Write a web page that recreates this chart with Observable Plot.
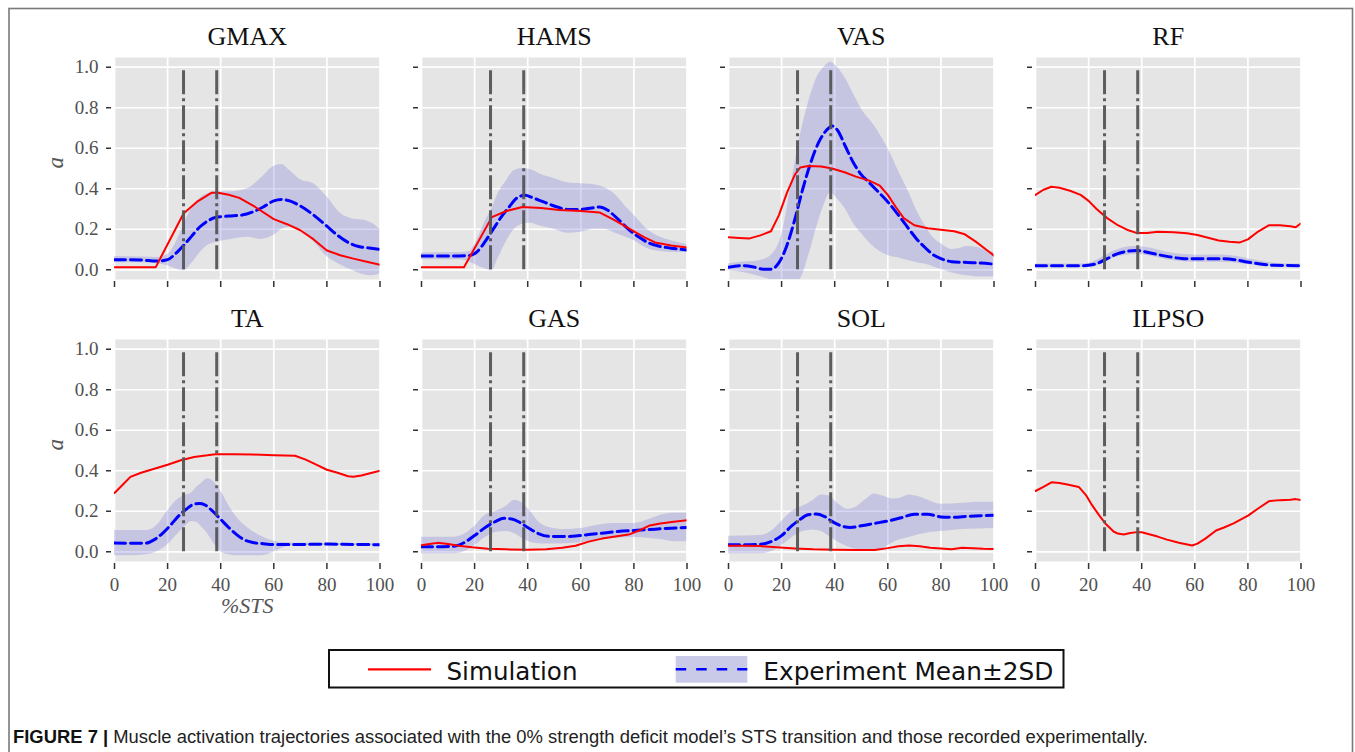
<!DOCTYPE html>
<html>
<head>
<meta charset="utf-8">
<script src="https://cdn.jsdelivr.net/npm/d3@7"></script>
<script src="https://cdn.jsdelivr.net/npm/@observablehq/plot@0.6"></script>
<style>
  html, body { margin: 0; padding: 0; background: #fff; }
  #root { position: relative; width: 1355px; height: 752px; overflow: hidden; background: #fff; }
  #root svg.panel { position: absolute; }
</style>
</head>
<body>
<div id="root"></div>
<script>
// ---------- data ----------
const muscles = ["GMAX", "HAMS", "VAS", "RF", "TA", "GAS", "SOL", "ILPSO"];
const xTicks = [0, 20, 40, 60, 80, 100];
const yTicks = [0, 0.2, 0.4, 0.6, 0.8, 1.0];
const phaseLines = [26, 38.5];
const seriesNames = ["Simulation", "Experiment Mean\u00b12SD"];
const xLabel = "%STS";
const yLabel = "a";

// [x, activation]
const gmaxSim = [[0,.012],[15.5,.012],[26,.278],[31,.335],[36.5,.38],[39,.38],[43,.37],[47,.355],[53,.31],[60,.25],[65,.225],[70,.195],[75,.15],[80,.095],[85,.072],[90,.055],[95,.04],[100,.025]];
const gmaxMean = [[0,.05],[10,.048],[16,.043],[20,.05],[23,.08],[26,.12],[29,.165],[32,.21],[35,.24],[38,.258],[43,.265],[48,.27],[52,.285],[56,.31],[60,.34],[63,.347],[66,.34],[70,.315],[75,.27],[80,.215],[84,.17],[88,.135],[92,.115],[96,.107],[100,.1]];
// [x, lower, upper]
const gmaxBand = [[0,.035,.065],[10,.035,.063],[16,.03,.06],[20,.02,.075],[23,.005,.13],[26,-.005,.22],[29,.03,.3],[32,.08,.35],[35,.12,.375],[38,.135,.385],[44,.15,.385],[50,.16,.4],[55,.15,.45],[60,.17,.51],[63,.2,.52],[66,.21,.49],[70,.2,.445],[75,.14,.425],[80,.065,.36],[85,.025,.28],[90,-.005,.25],[94,-.025,.245],[97,-.03,.23],[100,-.02,.2]];

const hamsSim = [[0,.012],[16,.012],[26.5,.26],[32,.29],[38,.31],[45,.305],[52,.295],[60,.29],[67,.283],[72,.25],[76,.22],[80,.19],[84,.16],[88,.135],[94,.12],[100,.11]];
const hamsMean = [[0,.068],[10,.068],[18,.07],[21,.09],[24,.14],[27,.2],[30,.26],[33,.31],[36,.355],[39,.368],[42,.355],[46,.335],[50,.315],[55,.298],[60,.298],[64,.305],[67,.31],[70,.295],[74,.25],[78,.2],[82,.16],[86,.13],[90,.115],[95,.105],[100,.098]];
const hamsBand = [[0,.05,.083],[15,.05,.085],[18,.04,.09],[21,.02,.15],[24,.005,.24],[26.5,-.005,.3],[29,.06,.38],[32,.14,.44],[35,.2,.49],[38,.225,.5],[41,.23,.495],[45,.215,.47],[50,.2,.45],[55,.18,.43],[60,.185,.425],[65,.2,.42],[69,.2,.405],[73,.18,.37],[77,.16,.31],[80,.145,.27],[85,.105,.2],[90,.09,.16],[95,.085,.14],[100,.085,.125]];

const vasSim = [[0,.16],[4,.157],[8,.155],[12,.17],[16,.19],[19,.27],[22,.38],[25,.47],[27,.505],[30,.512],[35,.51],[39,.5],[44,.48],[48,.46],[53,.44],[57,.415],[60,.37],[63,.31],[66,.255],[70,.22],[75,.205],[80,.198],[85,.19],[89,.175],[93,.14],[97,.1],[100,.07]];
const vasMean = [[0,.012],[5,.02],[9,.015],[13,.003],[16,.003],[19,.035],[22,.12],[25,.25],[28,.4],[31,.53],[34,.63],[37,.69],[39,.71],[41,.69],[44,.61],[47,.53],[50,.47],[53,.43],[56,.39],[60,.335],[64,.27],[68,.2],[71,.15],[74,.11],[77,.075],[80,.055],[84,.04],[90,.036],[95,.033],[100,.028]];
const vasBand = [[0,-.005,.03],[6,-.015,.038],[12,-.035,.046],[16,-.05,.07],[20,-.08,.17],[24,-.08,.45],[27,-.05,.66],[30,.06,.82],[33,.2,.94],[36,.32,1.0],[38.4,.38,1.025],[41,.35,1.0],[44,.3,.945],[47,.23,.87],[50,.18,.795],[55,.11,.71],[60,.07,.6],[65,.055,.46],[68,.045,.38],[71,.035,.29],[74,.028,.22],[77,.015,.16],[80.5,0,.125],[84,-.015,.1],[87,-.025,.105],[90,-.03,.115],[93.7,-.036,.11],[97,-.036,.095],[100,-.035,.087]];

const rfSim = [[0,.37],[3,.395],[6,.41],[9,.405],[13,.39],[17,.37],[20,.34],[23,.3],[27,.255],[31,.22],[35,.195],[38,.182],[42,.182],[46,.188],[52,.185],[57,.18],[61,.172],[65,.158],[69,.145],[73,.138],[77,.135],[80,.15],[84,.19],[88,.22],[92,.22],[96,.215],[98,.21],[100,.23]];
const rfMean = [[0,.02],[10,.02],[17,.02],[20,.022],[23,.03],[27,.055],[31,.08],[35,.092],[38,.095],[42,.087],[46,.075],[50,.065],[55,.056],[60,.054],[65,.055],[70,.055],[75,.05],[79,.04],[84,.03],[90,.022],[100,.02]];
const rfBand = [[0,.012,.028],[17,.012,.028],[21,.012,.035],[25,.03,.06],[30,.06,.095],[35,.073,.113],[38,.075,.115],[44,.065,.105],[50,.048,.085],[56,.04,.075],[62,.037,.072],[70,.037,.073],[76,.032,.066],[80,.025,.055],[86,.018,.04],[92,.014,.03],[100,.012,.028]];

const taSim = [[0,.29],[3,.33],[6,.37],[10,.39],[15,.41],[20,.43],[25,.452],[30,.468],[35,.476],[38,.482],[45,.482],[52,.48],[60,.477],[68,.474],[72,.455],[76,.43],[80,.405],[84,.39],[88,.373],[90,.37],[93,.377],[97,.39],[100,.4]];
const taMean = [[0,.043],[6,.042],[12,.043],[15,.06],[18,.09],[21,.13],[24,.175],[27,.21],[30,.235],[32,.238],[34,.232],[37,.2],[40,.16],[43,.12],[46,.085],[49,.058],[52,.046],[56,.04],[60,.036],[70,.036],[80,.038],[90,.036],[100,.035]];
const taBand = [[0,-.02,.105],[6,-.02,.105],[12,-.015,.105],[16,0,.13],[20,.035,.2],[24,.09,.26],[27,.13,.28],[29,.15,.29],[31,.145,.32],[33,.12,.34],[35,.09,.36],[37,.05,.35],[40,0,.3],[43,-.015,.23],[46,-.02,.17],[50,-.02,.12],[54,-.02,.085],[58,-.012,.06],[62,.01,.047],[66,.028,.043],[70,.03,.042],[80,.03,.042],[90,.03,.04],[100,.03,.04]];

const gasSim = [[0,.032],[3,.038],[6,.044],[10,.038],[14,.03],[19,.022],[25,.015],[32,.012],[40,.01],[47,.012],[53,.02],[58,.03],[63,.05],[68,.065],[73,.075],[78,.085],[82,.105],[86,.13],[90,.14],[95,.148],[100,.156]];
const gasMean = [[0,.025],[6,.025],[12,.027],[16,.045],[20,.08],[24,.12],[28,.15],[31,.165],[34,.162],[37,.145],[40,.12],[44,.09],[48,.076],[53,.075],[58,.078],[63,.085],[68,.092],[74,.1],[80,.105],[86,.11],[92,.115],[100,.12]];
const gasBand = [[0,-.01,.072],[12,-.01,.072],[16,0,.085],[20,.03,.125],[24,.07,.18],[28,.095,.2],[32,.1,.225],[35,.09,.255],[38,.065,.24],[41,.047,.2],[44,.04,.15],[48,.038,.12],[54,.04,.11],[60,.045,.115],[66,.055,.13],[72,.065,.14],[80,.07,.14],[86,.065,.16],[90,.06,.18],[95,.05,.19],[100,.05,.19]];

const solSim = [[0,.03],[6,.03],[12,.028],[18,.022],[25,.016],[32,.012],[40,.01],[48,.009],[55,.009],[60,.018],[64,.027],[68,.031],[72,.027],[76,.02],[80,.016],[84,.013],[88,.02],[92,.018],[96,.015],[100,.014]];
const solMean = [[0,.035],[6,.035],[12,.037],[16,.05],[20,.08],[24,.13],[27,.16],[30,.183],[33,.186],[36,.175],[39,.15],[42,.13],[46,.12],[50,.128],[55,.14],[60,.152],[65,.168],[70,.185],[75,.185],[80,.172],[85,.17],[90,.175],[95,.178],[100,.18]];
const solBand = [[0,-.01,.077],[12,-.01,.08],[16,0,.1],[20,.03,.15],[24,.07,.2],[28,.1,.225],[32,.108,.255],[35,.1,.28],[38,.075,.275],[41,.05,.24],[45,.025,.21],[48,.012,.22],[52,.002,.26],[55,0,.285],[58,.015,.275],[62,.045,.26],[65,.06,.265],[68,.07,.28],[72,.085,.27],[76,.095,.25],[80,.1,.235],[88,.11,.24],[94,.112,.245],[100,.115,.245]];

const ilpsoSim = [[0,.3],[3,.32],[6,.343],[9,.34],[12,.332],[16.3,.32],[19,.28],[21.3,.23],[24,.18],[26.3,.14],[29.4,.1],[31,.09],[33.2,.085],[35.7,.093],[38.2,.097],[40,.096],[43.2,.085],[46,.075],[49.5,.06],[54,.045],[59,.031],[61,.04],[64,.065],[68,.105],[71,.12],[74.6,.14],[80.2,.18],[84,.215],[88,.25],[92,.255],[96,.257],[98,.26],[100,.255]];

const panels = [
  {name: muscles[0], sim: gmaxSim, mean: gmaxMean, band: gmaxBand},
  {name: muscles[1], sim: hamsSim, mean: hamsMean, band: hamsBand},
  {name: muscles[2], sim: vasSim, mean: vasMean, band: vasBand},
  {name: muscles[3], sim: rfSim, mean: rfMean, band: rfBand},
  {name: muscles[4], sim: taSim, mean: taMean, band: taBand},
  {name: muscles[5], sim: gasSim, mean: gasMean, band: gasBand},
  {name: muscles[6], sim: solSim, mean: solMean, band: solBand},
  {name: muscles[7], sim: ilpsoSim, mean: null, band: null}
];

// ---------- layout ----------
const colLeft = [114, 421, 728.3, 1035];
const rowTop = [57, 339.3];
const areaW = 265.5, areaH = 222;
const ML = 64, MR = 8, MT = 50, MB = 64;
const SERIF = "'Liberation Serif', 'DejaVu Serif', serif";

const root = document.getElementById("root");

// frame border + legend + caption overlay
const NS = "http://www.w3.org/2000/svg";
const ov = document.createElementNS(NS, "svg");
ov.setAttribute("width", 1355); ov.setAttribute("height", 752);
ov.style.position = "absolute"; ov.style.left = "0px"; ov.style.top = "0px";
ov.innerHTML = `
  <rect x="9" y="8.5" width="1343.5" height="800" fill="none" stroke="#7a7a7a" stroke-width="1.6"/>
  <rect x="329" y="650" width="734.5" height="37.5" fill="#fff" stroke="#111" stroke-width="2"/>
  <line x1="368" x2="431" y1="669.3" y2="669.3" stroke="#ff0000" stroke-width="2.2"/>
  <text x="446.5" y="680" font-family="'DejaVu Sans', sans-serif" font-size="24.5" fill="#111" textLength="131" lengthAdjust="spacingAndGlyphs">${seriesNames[0]}</text>
  <rect x="675.7" y="656" width="71.6" height="26.7" fill="#c9c9e8"/>
  <line x1="675.7" x2="747.3" y1="669.3" y2="669.3" stroke="#0000ff" stroke-width="2.6" stroke-dasharray="10.5,10"/>
  <text x="763.3" y="680" font-family="'DejaVu Sans', sans-serif" font-size="24.5" fill="#111" textLength="290" lengthAdjust="spacingAndGlyphs">${seriesNames[1]}</text>
  <text x="13" y="742.5" font-family="'Liberation Sans', Arial, sans-serif" font-size="17.5" fill="#222" textLength="1135" lengthAdjust="spacingAndGlyphs"><tspan font-weight="bold" fill="#111">FIGURE 7 | </tspan>Muscle activation trajectories associated with the 0% strength deficit model\u2019s STS transition and those recorded experimentally.</text>
`;
root.appendChild(ov);

panels.forEach((p, i) => {
  const col = i % 4, row = Math.floor(i / 4);
  const first = col === 0, bottom = row === 1;
  const marks = [
    Plot.frame({fill: "#e5e5e5", stroke: null}),
    Plot.gridX(xTicks, {stroke: "#fff", strokeOpacity: 1, strokeWidth: 1.7}),
    Plot.gridY(yTicks, {stroke: "#fff", strokeOpacity: 1, strokeWidth: 1.7})
  ];
  if (p.band) marks.push(Plot.areaY(p.band, {x: d => d[0], y1: d => d[1], y2: d => d[2], fill: "#7b7bd6", fillOpacity: 0.3, curve: "monotone-x", clip: true}));
  if (p.mean) marks.push(Plot.line(p.mean, {x: d => d[0], y: d => d[1], stroke: "#0000ff", strokeWidth: 3, strokeDasharray: "11,5", curve: "monotone-x", clip: true}));
  marks.push(Plot.line(p.sim, {x: d => d[0], y: d => d[1], stroke: "#ff0000", strokeWidth: 2, curve: "linear", clip: true}));
  marks.push(Plot.ruleX(phaseLines, {y1: 0, y2: 1, stroke: "#555", strokeOpacity: 0.95, strokeWidth: 3, strokeDasharray: "24,4,3,4"}));
  marks.push(Plot.axisX(xTicks, {tickSize: 6, tickPadding: 8, dy: 2, stroke: "#333", strokeWidth: 1.5, fill: bottom ? "#505050" : "none", label: null, fontSize: 19}));
  marks.push(Plot.axisY(yTicks, {tickSize: 5, tickPadding: 8, dx: -3, stroke: "#333", strokeWidth: 1.5, fill: first ? "#505050" : "none", tickFormat: d => d.toFixed(1), label: null, fontSize: 19}));
  marks.push(Plot.text([p.name], {text: d => d, frameAnchor: "top", dy: -13, lineAnchor: "bottom", fontSize: 26, fill: "#111", fontFamily: SERIF}));
  if (first) marks.push(Plot.text([yLabel], {text: d => d, frameAnchor: "left", dx: -59, rotate: -90, fontStyle: "italic", fontSize: 23, fill: "#555", fontFamily: SERIF}));
  if (first && bottom) marks.push(Plot.text([xLabel], {text: d => d, frameAnchor: "bottom", dy: 51, fontStyle: "italic", fontSize: 22, fill: "#555", fontFamily: SERIF}));

  const svg = Plot.plot({
    width: ML + areaW + MR,
    height: MT + areaH + MB,
    marginLeft: ML, marginRight: MR, marginTop: MT, marginBottom: MB,
    x: {domain: [0, 100], label: null},
    y: {domain: [-0.048, 1.048], label: null},
    style: {background: "transparent", fontFamily: SERIF, fontSize: "19px", color: "#555", overflow: "visible"},
    marks
  });
  svg.classList.add("panel");
  svg.style.left = (colLeft[col] - ML) + "px";
  svg.style.top = (rowTop[row] - MT) + "px";
  root.appendChild(svg);
});
</script>
</body>
</html>
